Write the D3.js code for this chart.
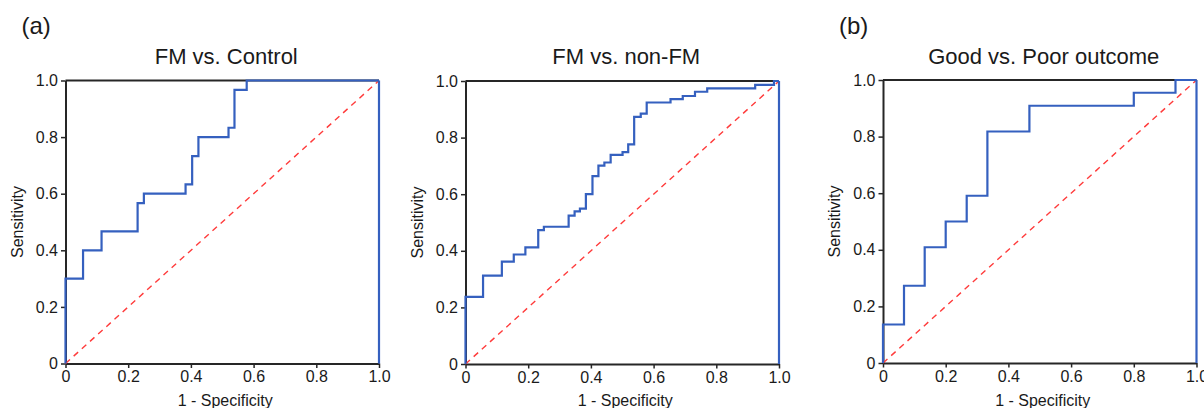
<!DOCTYPE html>
<html>
<head>
<meta charset="utf-8">
<script src="https://cdn.jsdelivr.net/npm/d3@7"></script>
<style>
  body { margin: 0; background: #fff; }
  text { font-family: "Liberation Sans", Arial, sans-serif; fill: #1a1a1a; }
</style>
</head>
<body>
<div id="output"></div>
<script>
const width = 1204, height = 408;

// panel titles and letters
const titles = ['FM vs. Control', 'FM vs. non-FM', 'Good vs. Poor outcome'];
const letters = ['(a)', null, '(b)'];
const ticks = [0, 0.2, 0.4, 0.6, 0.8, 1.0];

// ROC step corners: each level tpr[i] starts at fpr[i]
const fprControl = [0, 0, 0.056, 0.115, 0.230, 0.250, 0.383, 0.404, 0.424, 0.520, 0.539, 0.578, 1.0];
const tprControl = [0, 0.300, 0.400, 0.467, 0.567, 0.600, 0.633, 0.733, 0.800, 0.833, 0.967, 1.0, 1.0];

const fprNonFM = [0, 0, 0.056, 0.116, 0.154, 0.191, 0.232, 0.250, 0.329, 0.348, 0.365, 0.384, 0.405,
                  0.424, 0.443, 0.463, 0.501, 0.519, 0.538, 0.559, 0.578, 0.654, 0.693, 0.732, 0.771,
                  0.924, 0.984, 1.0];
const tprNonFM = [0, 0.237, 0.312, 0.362, 0.387, 0.412, 0.473, 0.485, 0.524, 0.539, 0.549, 0.600, 0.664,
                  0.701, 0.712, 0.739, 0.749, 0.776, 0.873, 0.885, 0.924, 0.936, 0.947, 0.962, 0.974,
                  0.986, 1.0, 1.0];

const fprOutcome = [0, 0, 0.067, 0.133, 0.200, 0.267, 0.333, 0.467, 0.800, 0.933, 1.0];
const tprOutcome = [0, 0.136, 0.273, 0.409, 0.500, 0.591, 0.818, 0.909, 0.955, 1.0, 1.0];

const series = [[fprControl, tprControl], [fprNonFM, tprNonFM], [fprOutcome, tprOutcome]];

// pixel boxes of the three plots
const boxes = [
    {x0: 65.5, x1: 379, y0: 80.5, y1: 363.5},
    {x0: 465.5, x1: 779, y0: 81, y1: 364},
    {x0: 883, x1: 1196.5, y0: 80, y1: 363}
];

const blue = '#3560bf';
const frameColor = '#262626';

const svg = d3.select('#output').append('svg')
    .attr('width', width)
    .attr('height', height);

boxes.forEach((b, i) => {
    const x = d3.scaleLinear().domain([0, 1]).range([b.x0, b.x1]);
    const y = d3.scaleLinear().domain([0, 1]).range([b.y1, b.y0]);
    const g = svg.append('g');
    const fmt = d => d === 0 ? '0' : d.toFixed(1);

    // axes
    const xAxis = g.append('g')
        .attr('transform', 'translate(0,' + b.y1 + ')')
        .call(d3.axisBottom(x).tickValues(ticks).tickFormat(fmt).tickSize(4.5).tickSizeOuter(0).tickPadding(3));
    const yAxis = g.append('g')
        .attr('transform', 'translate(' + b.x0 + ',0)')
        .call(d3.axisLeft(y).tickValues(ticks).tickFormat(fmt).tickSize(4.5).tickSizeOuter(0).tickPadding(3));
    [xAxis, yAxis].forEach(a => {
        a.attr('font-size', 16);
        a.select('.domain').attr('stroke', frameColor).attr('stroke-width', 2);
        a.selectAll('.tick line').attr('stroke', frameColor).attr('stroke-width', 1.5);
        a.selectAll('.tick text').attr('font-size', 16).attr('fill', '#1a1a1a')
            .style('font-family', '"Liberation Sans", Arial, sans-serif');
    });

    // top frame
    g.append('line')
        .attr('x1', x(0)).attr('x2', x(1))
        .attr('y1', y(1)).attr('y2', y(1))
        .attr('stroke', frameColor).attr('stroke-width', 2);

    // reference diagonal
    g.append('line')
        .attr('x1', x(0)).attr('y1', y(0))
        .attr('x2', x(1)).attr('y2', y(1))
        .attr('stroke', '#ff3b3b').attr('stroke-width', 1.4)
        .attr('stroke-dasharray', '6,5');

    // ROC curve
    const [fpr, tpr] = series[i];
    const pts = fpr.map((f, k) => [f, tpr[k]]);
    g.append('path')
        .datum(pts)
        .attr('d', d3.line().x(d => x(d[0])).y(d => y(d[1])).curve(d3.curveStepAfter))
        .attr('fill', 'none')
        .attr('stroke', blue)
        .attr('stroke-width', 2.2);

    // right frame drawn in blue
    g.append('line')
        .attr('x1', x(1)).attr('x2', x(1))
        .attr('y1', y(0)).attr('y2', y(1))
        .attr('stroke', blue).attr('stroke-width', 2.2);

    // titles and labels
    g.append('text')
        .attr('x', (b.x0 + b.x1) / 2 + 4)
        .attr('y', 64)
        .attr('text-anchor', 'middle')
        .attr('font-size', 22)
        .text(titles[i]);
    g.append('text')
        .attr('x', (b.x0 + b.x1) / 2 + 3)
        .attr('y', 406)
        .attr('text-anchor', 'middle')
        .attr('font-size', 16)
        .text('1 - Specificity');
    g.append('text')
        .attr('transform', 'translate(' + (b.x0 - 43) + ',' + ((b.y0 + b.y1) / 2) + ') rotate(-90)')
        .attr('text-anchor', 'middle')
        .attr('font-size', 16)
        .text('Sensitivity');
    if (letters[i]) {
        g.append('text')
            .attr('x', b.x0 - 44)
            .attr('y', 34)
            .attr('font-size', 24)
            .text(letters[i]);
    }
});
</script>
</body>
</html>
